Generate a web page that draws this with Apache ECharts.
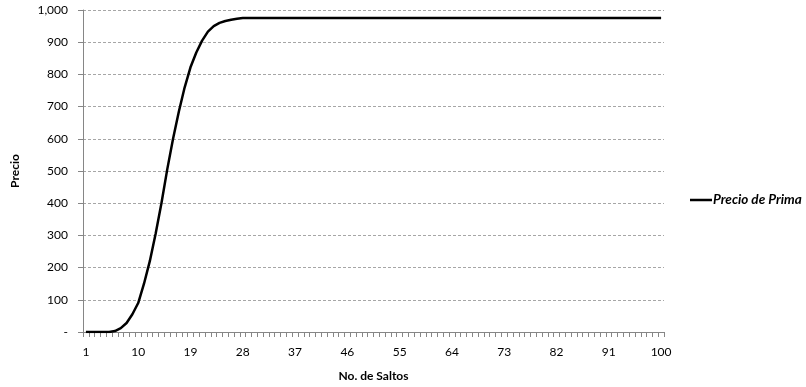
<!DOCTYPE html>
<html>
<head>
<meta charset="utf-8">
<script src="https://cdn.jsdelivr.net/npm/echarts@6/dist/echarts.min.js"></script>
<style>
html,body{margin:0;padding:0;background:#fff;}
#c{width:806px;height:387px;}
</style>
</head>
<body>
<div id="c"></div>
<script>
// Data
var seriesName = 'Precio de Prima';
var xTitle = 'No. de Saltos';
var yTitle = 'Precio';
var steps = [];
for (var i = 1; i <= 100; i++) steps.push(String(i));
var riseValues = [0, 0, 0, 0, 0, 3, 12, 28, 55, 90, 150, 220, 305, 400, 505, 600, 685, 760, 822, 868, 905, 933, 950, 960, 966, 970, 973, 975];
var plateauValue = 975;
var prices = riseValues.slice();
while (prices.length < steps.length) prices.push(plateauValue);

var font = 'Lato, "Open Sans", sans-serif';
var chart = echarts.init(document.getElementById('c'), null, {renderer: 'canvas'});
chart.setOption({
  animation: false,
  backgroundColor: '#fff',
  grid: {left: 83, right: 142, top: 10, bottom: 54},
  legend: {
    data: [seriesName],
    left: 685, top: 188,
    icon: 'rect', itemWidth: 22, itemHeight: 2.5, itemGap: 0,
    textStyle: {fontFamily: font, fontSize: 13.5, fontWeight: 'bold', fontStyle: 'italic', color: '#000', padding: [0, 0, 0, -4]}
  },
  xAxis: {
    type: 'category',
    data: steps,
    boundaryGap: true,
    name: xTitle,
    nameLocation: 'middle',
    nameGap: 38,
    nameTextStyle: {fontFamily: font, fontSize: 12, fontWeight: 'bold', color: '#000'},
    axisLine: {lineStyle: {color: '#868686', width: 1}},
    axisTick: {show: true, interval: 0, length: 5, lineStyle: {color: '#868686'}},
    axisLabel: {interval: 8, fontFamily: font, fontSize: 12, color: '#000', margin: 14},
    splitLine: {show: false}
  },
  yAxis: {
    type: 'value',
    min: 0, max: 1000, interval: 100,
    name: yTitle,
    nameLocation: 'middle',
    nameGap: 62,
    nameRotate: 90,
    nameTextStyle: {fontFamily: font, fontSize: 12, fontWeight: 'bold', color: '#000'},
    axisLine: {show: true, lineStyle: {color: '#868686', width: 1}},
    axisTick: {show: true, length: 5, lineStyle: {color: '#868686'}},
    axisLabel: {
      fontFamily: font, fontSize: 12, color: '#000', margin: 15,
      formatter: function (v) { return v === 0 ? '-' : v.toLocaleString('en-US'); }
    },
    splitLine: {show: true, lineStyle: {color: '#a6a6a6', type: [3, 2], width: 1}}
  },
  series: [{
    name: seriesName,
    type: 'line',
    data: prices,
    symbol: 'none',
    smooth: false,
    lineStyle: {color: '#000', width: 2.5},
    itemStyle: {color: '#000'}
  }]
});
</script>
</body>
</html>
